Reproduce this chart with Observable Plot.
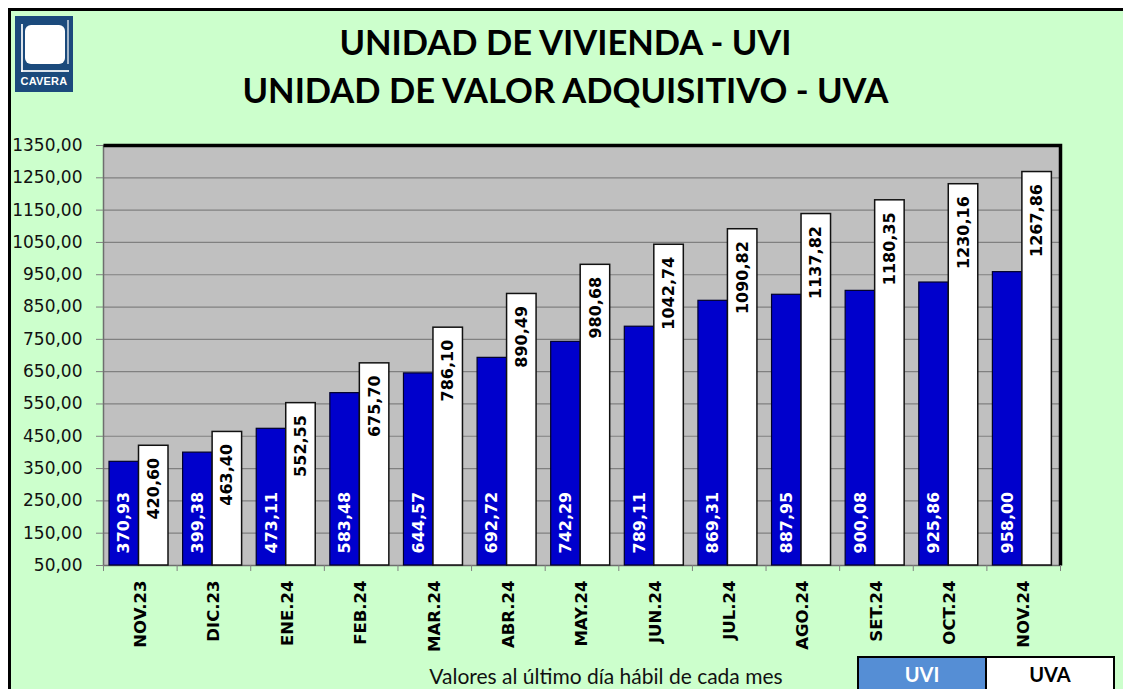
<!DOCTYPE html>
<html><head><meta charset="utf-8">
<script src="https://cdn.jsdelivr.net/npm/d3@7"></script>
<script src="https://cdn.jsdelivr.net/npm/@observablehq/plot@0.6"></script>
<style>
html,body{margin:0;padding:0;background:#fff;}
body{width:1123px;height:689px;overflow:hidden;position:relative;font-family:"DejaVu Sans",sans-serif;}
#page{position:absolute;left:8px;top:8px;width:1140px;height:720px;background:#ccffcc;border-left:3px solid #000;border-top:3px solid #000;}
#logo{position:absolute;left:15px;top:16px;width:58px;height:76px;background:#1b4a7c;}
#logo .sq{position:absolute;left:10px;top:9px;width:40px;height:39px;background:#fff;border-radius:6px;}
#logo .l1{position:absolute;left:6px;top:8px;width:2px;height:48px;background:#fff;opacity:.85;}
#logo .l2{position:absolute;left:6px;top:54px;width:48px;height:2px;background:#fff;opacity:.85;}
#logo .l3{position:absolute;left:52px;top:4px;width:2px;height:44px;background:#fff;opacity:.6;}
#logo .tx{position:absolute;left:0;top:59px;width:58px;text-align:center;color:#fff;font:bold 11px "Liberation Sans",Arial,sans-serif;letter-spacing:0.2px;}
#title{position:absolute;left:0;top:18px;width:1131px;text-align:center;font:bold 34.5px Lato,sans-serif;line-height:48px;color:#000;}
#chart{position:absolute;left:0;top:130px;}
#caption{position:absolute;left:406px;top:663px;width:400px;text-align:center;font:21px Lato,sans-serif;color:#111;}
#legend{position:absolute;left:857px;top:656px;width:254px;height:36px;border:2px solid #000;display:flex;}
#legend div{flex:1;display:flex;align-items:center;justify-content:center;font:bold 20px Lato,sans-serif;padding-bottom:4px;}
#legend .a{background:#558ed5;color:#fff;border-right:2px solid #000;}
#legend .b{background:#fff;color:#000;}
</style>
</head><body>
<div id="page"></div>
<div id="logo"><div class="sq"></div><div class="l1"></div><div class="l2"></div><div class="l3"></div><div class="tx">CAVERA</div></div>
<div id="title">UNIDAD DE VIVIENDA - UVI<br>UNIDAD DE VALOR ADQUISITIVO - UVA</div>
<div id="chart"></div>
<div id="caption">Valores al último día hábil de cada mes</div>
<div id="legend"><div class="a">UVI</div><div class="b">UVA</div></div>
<script>
const months = ["NOV.23","DIC.23","ENE.24","FEB.24","MAR.24","ABR.24","MAY.24","JUN.24","JUL.24","AGO.24","SET.24","OCT.24","NOV.24"];
const uvi = [370.93,399.38,473.11,583.48,644.57,692.72,742.29,789.11,869.31,887.95,900.08,925.86,958.00];
const uva = [420.60,463.40,552.55,675.70,786.10,890.49,980.68,1042.74,1090.82,1137.82,1180.35,1230.16,1267.86];
const yTicks = [50,150,250,350,450,550,650,750,850,950,1050,1150,1250,1350];

const fmt = v => v.toFixed(2).replace(".", ",");
const uviRows = months.map((m, i) => ({month: m, value: uvi[i], base: yTicks[0]}));
const uvaRows = months.map((m, i) => ({month: m, value: uva[i], base: yTicks[0]}));

const W = 1123, mL = 103, mR = 63, mT = 15, mB = 105, H = 540;
const bw = (W - mL - mR) / months.length;
const pw = W - mL - mR, ph = H - mT - mB;
const barW = 29.5, off = 6;

const chart = Plot.plot({
  width: W, height: H,
  marginLeft: mL, marginRight: mR, marginTop: mT, marginBottom: mB,
  style: {background: "transparent", fontFamily: "DejaVu Sans", overflow: "visible"},
  x: {domain: months, padding: 0, round: false, axis: null},
  y: {domain: [yTicks[0], yTicks[yTicks.length - 1]], axis: null},
  marks: [
    Plot.frame({fill: "#c0c0c0"}),
    Plot.gridY(yTicks, {stroke: "#808080", strokeOpacity: 1, strokeWidth: 1.2}),
    Plot.frame({stroke: "#6e6e6e", strokeWidth: 1.5}),
    Plot.barY(uviRows, {x: "month", y1: "base", y2: "value", fill: "#0000cc", stroke: "#00002a", strokeWidth: 1.2,
      insetLeft: off, insetRight: bw - off - barW}),
    Plot.barY(uvaRows, {x: "month", y1: "base", y2: "value", fill: "#ffffff", stroke: "#111", strokeWidth: 1.5,
      insetLeft: off + barW, insetRight: bw - off - 2 * barW}),
    Plot.text(uviRows, {x: "month", y: "base", text: d => fmt(d.value), rotate: -90, textAnchor: "start",
      dx: off + barW / 2 - bw / 2, dy: -12, fill: "#fff", fontWeight: "bold", fontSize: 16}),
    Plot.text(uvaRows, {x: "month", y: "value", text: d => fmt(d.value), rotate: -90, textAnchor: "end",
      dx: off + 1.5 * barW - bw / 2, dy: 12, fill: "#000", fontWeight: "bold", fontSize: 16}),
    Plot.frame({stroke: "#000", strokeWidth: 3.5, strokeDasharray: `${pw + ph} ${pw + ph}`}),
    Plot.axisY(yTicks, {tickSize: 7, tickPadding: 14, tickFormat: fmt, fontSize: 17, label: null, stroke: "#808080", fill: "#111"}),
    Plot.axisX({tickSize: 0, tickPadding: 15, tickRotate: -90, fontWeight: "bold", fontSize: 16.5, label: null, fill: "#000"}),
    Plot.axisX({tickSize: 6, tickFormat: () => "", label: null, dx: -bw / 2, stroke: "#808080"}),
    Plot.axisX(months.slice(-1), {tickSize: 6, tickFormat: () => "", label: null, dx: bw / 2, stroke: "#808080"})
  ]
});
document.getElementById("chart").appendChild(chart);
</script>
</body></html>
